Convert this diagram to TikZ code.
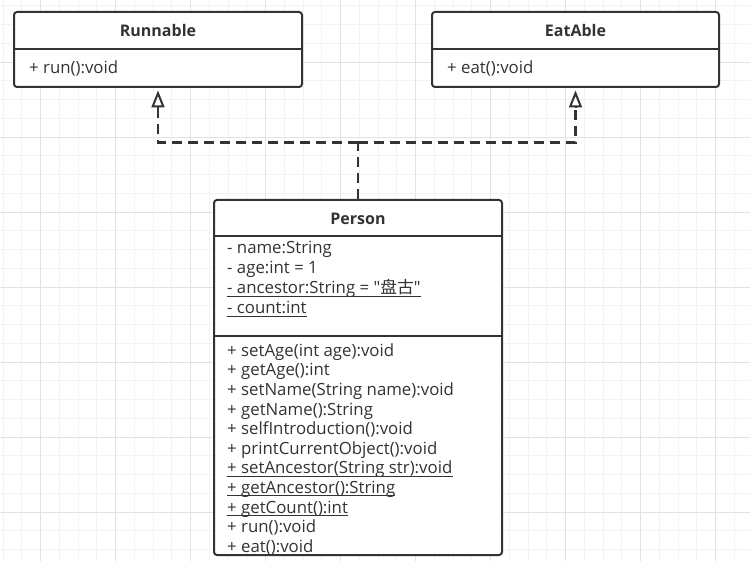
\documentclass[tikz,border=0pt]{standalone}
\usepackage{fontspec}
\setmainfont{Open Sans}[Ligatures=TeXOff]
\newfontfamily\cjk{Noto Sans CJK SC}
\usetikzlibrary{arrows.meta}
\definecolor{ink}{HTML}{333333}
\definecolor{gridminor}{HTML}{F3F3F3}
\definecolor{gridmajor}{HTML}{E2E2E2}
\tikzset{
  umlbox/.style={draw=ink, line width=2pt, fill=white, rounded corners=3pt, inner sep=0pt},
  divider/.style={draw=ink, line width=2pt},
  title/.style={anchor=base, inner sep=0pt, text=ink, font=\fontsize{16}{19}\selectfont\bfseries},
  member/.style={anchor=base west, inner sep=0pt, text=ink, font=\fontsize{16.8}{19}\selectfont},
  uline/.style={draw=ink, line width=0.9pt},
  realize/.style={draw=ink, line width=2.6pt, dash pattern=on 10pt off 6pt},
  tipline/.style={draw=ink, line width=2pt, solid},
  realtip/.style={-{Triangle[open, length=17pt, width=13pt, line width=2pt]}},
}
\begin{document}
\begin{tikzpicture}[x=1pt,y=-1pt]
\useasboundingbox (0,0) rectangle (750,561);
\fill[white] (0,0) rectangle (750,561);
% grid
\foreach \i in {0,...,40} {
  \draw[gridminor, line width=1pt] ({3.2+18.75*\i},0) -- ({3.2+18.75*\i},561);
}
\foreach \i in {0,...,30} {
  \draw[gridminor, line width=1pt] (0,{5.8+18.75*\i}) -- (750,{5.8+18.75*\i});
}
\foreach \i in {0,...,9} {
  \draw[gridmajor, line width=1pt] ({40.7+75*\i},0) -- ({40.7+75*\i},561);
}
\foreach \i in {0,...,6} {
  \draw[gridmajor, line width=1pt] (0,{62.3+75*\i}) -- (750,{62.3+75*\i});
}

% Runnable
\node[umlbox, minimum width=288pt, minimum height=75pt] (run) at (158,49.5) {};
\draw[divider] ([yshift=-38.5pt]run.north west) -- ([yshift=-38.5pt]run.north east);
\node[title] (runT) at (158,36.5) {Runnable};
\node[member] (runM) at (29,74) {+ run():void};

% EatAble
\node[umlbox, minimum width=287pt, minimum height=75pt] (eat) at (575.5,49.5) {};
\draw[divider] ([yshift=-38.5pt]eat.north west) -- ([yshift=-38.5pt]eat.north east);
\node[title] (eatT) at (575.5,36.5) {EatAble};
\node[member] (eatM) at (447,74) {+ eat():void};

% Person
\node[umlbox, minimum width=288pt, minimum height=355pt] (per) at (358,377.5) {};
\draw[divider] ([yshift=-37pt]per.north west) -- ([yshift=-37pt]per.north east);
\draw[divider] ([yshift=-137pt]per.north west) -- ([yshift=-137pt]per.north east);
\node[title] (perT) at (358,225) {Person};

\node[member] (a1) at (227,254) {- name:String};
\node[member] (a2) at (227,274) {- age:int = 1};
\node[member] (a3) at (227,294) {- ancestor:String = "{\cjk 盘古}"};
\node[member] (a4) at (227,314) {- count:int};
\draw[uline] ([yshift=-2.5pt]a3.base west) -- ([yshift=-2.5pt]a3.base east);
\draw[uline] ([yshift=-2.5pt]a4.base west) -- ([yshift=-2.5pt]a4.base east);

\node[member] (m1) at (227,356) {+ setAge(int age):void};
\node[member] (m2) at (227,375.7) {+ getAge():int};
\node[member] (m3) at (227,395.3) {+ setName(String name):void};
\node[member] (m4) at (227,415) {+ getName():String};
\node[member] (m5) at (227,434.6) {+ selfIntroduction():void};
\node[member] (m6) at (227,454.2) {+ printCurrentObject():void};
\node[member] (m7) at (227,473.8) {+ setAncestor(String str):void};
\node[member] (m8) at (227,493.4) {+ getAncestor():String};
\node[member] (m9) at (227,513) {+ getCount():int};
\node[member] (m10) at (227,532.6) {+ run():void};
\node[member] (m11) at (227,552.2) {+ eat():void};
\draw[uline] ([yshift=-2.5pt]m7.base west) -- ([yshift=-2.5pt]m7.base east);
\draw[uline] ([yshift=-2.5pt]m8.base west) -- ([yshift=-2.5pt]m8.base east);
\draw[uline] ([yshift=-2.5pt]m9.base west) -- ([yshift=-2.5pt]m9.base east);

% realization connectors
\coordinate (j) at (358,142.5);
\draw[realize] (per.north) -- (j);
\draw[realize] (j) -| ([yshift=-20pt]run.south);
\draw[realize] (j) -| ([yshift=-20pt]eat.south);
\draw[tipline, realtip] ([yshift=-20pt]run.south) -- ([yshift=-2.5pt]run.south);
\draw[tipline, realtip] ([yshift=-20pt]eat.south) -- ([yshift=-2.5pt]eat.south);
\end{tikzpicture}
\end{document}
